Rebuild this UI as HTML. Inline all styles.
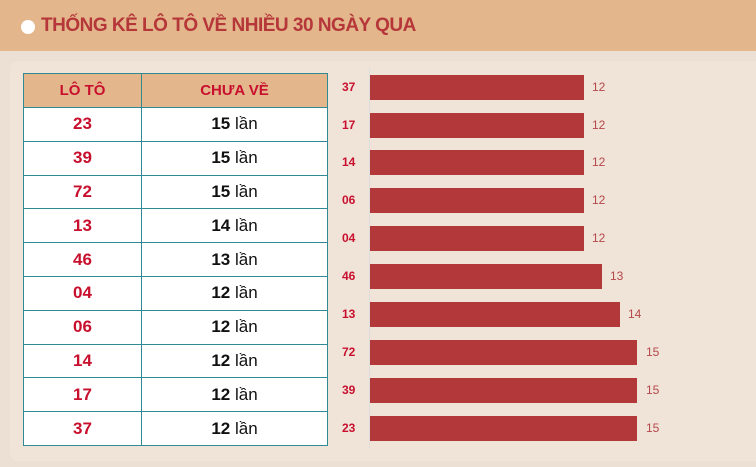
<!DOCTYPE html>
<html><head><meta charset="utf-8"><style>
body{margin:0;width:756px;height:467px;background:#ecdfd3;font-family:"Liberation Sans",sans-serif;position:relative;overflow:hidden}
.hdr{position:absolute;left:0;top:0;width:756px;height:51px;background:#e3b68b}
.dot{position:absolute;left:21px;top:20px;width:14px;height:14px;border-radius:50%;background:#fff}
.ttl{position:absolute;left:41px;top:15px;font-size:19px;font-weight:bold;color:#b5373a;letter-spacing:-0.5px}
.card{position:absolute;left:10px;top:61px;width:760px;height:400px;background:#f0e3d8;border-radius:8px}
table{position:absolute;left:23px;top:73px;border-collapse:collapse;width:305px}
td,th{border:1.5px solid #2f8a93;height:32.8px;text-align:center;padding:0;background:#fff}
th{background:#e3b68b;color:#c8102e;font-size:15px;height:33px}
td.a{color:#c8102e;font-weight:bold;font-size:17px;width:117px}
td.b{font-size:17px;color:#111}
.bar{position:absolute;left:370px;height:25px;background:#b3383a}
.lb{position:absolute;left:342px;font-size:12px;font-weight:bold;color:#c8102e}
.v{position:absolute;font-size:12px;color:#b5474a}
.ax{position:absolute;left:369px;top:68px;width:1px;height:380px;background:#ddd}
</style></head><body>
<div class="hdr"><div class="dot"></div><div class="ttl">THỐNG KÊ LÔ TÔ VỀ NHIỀU 30 NGÀY QUA</div></div>
<div class="card"></div>
<table>
<tr><th>LÔ TÔ</th><th>CHƯA VỀ</th></tr>
<tr><td class="a">23</td><td class="b"><b>15</b> lần</td></tr>
<tr><td class="a">39</td><td class="b"><b>15</b> lần</td></tr>
<tr><td class="a">72</td><td class="b"><b>15</b> lần</td></tr>
<tr><td class="a">13</td><td class="b"><b>14</b> lần</td></tr>
<tr><td class="a">46</td><td class="b"><b>13</b> lần</td></tr>
<tr><td class="a">04</td><td class="b"><b>12</b> lần</td></tr>
<tr><td class="a">06</td><td class="b"><b>12</b> lần</td></tr>
<tr><td class="a">14</td><td class="b"><b>12</b> lần</td></tr>
<tr><td class="a">17</td><td class="b"><b>12</b> lần</td></tr>
<tr><td class="a">37</td><td class="b"><b>12</b> lần</td></tr>
</table>
<div class="ax"></div>
<div class="lb" style="top:80px">37</div><div class="bar" style="top:75px;width:214px"></div><div class="v" style="top:80px;left:592px">12</div>
<div class="lb" style="top:118px">17</div><div class="bar" style="top:113px;width:214px"></div><div class="v" style="top:118px;left:592px">12</div>
<div class="lb" style="top:155px">14</div><div class="bar" style="top:150px;width:214px"></div><div class="v" style="top:155px;left:592px">12</div>
<div class="lb" style="top:193px">06</div><div class="bar" style="top:188px;width:214px"></div><div class="v" style="top:193px;left:592px">12</div>
<div class="lb" style="top:231px">04</div><div class="bar" style="top:226px;width:214px"></div><div class="v" style="top:231px;left:592px">12</div>
<div class="lb" style="top:269px">46</div><div class="bar" style="top:264px;width:232px"></div><div class="v" style="top:269px;left:610px">13</div>
<div class="lb" style="top:307px">13</div><div class="bar" style="top:302px;width:250px"></div><div class="v" style="top:307px;left:628px">14</div>
<div class="lb" style="top:345px">72</div><div class="bar" style="top:340px;width:267px"></div><div class="v" style="top:345px;left:646px">15</div>
<div class="lb" style="top:383px">39</div><div class="bar" style="top:378px;width:267px"></div><div class="v" style="top:383px;left:646px">15</div>
<div class="lb" style="top:421px">23</div><div class="bar" style="top:416px;width:267px"></div><div class="v" style="top:421px;left:646px">15</div>
</body></html>
